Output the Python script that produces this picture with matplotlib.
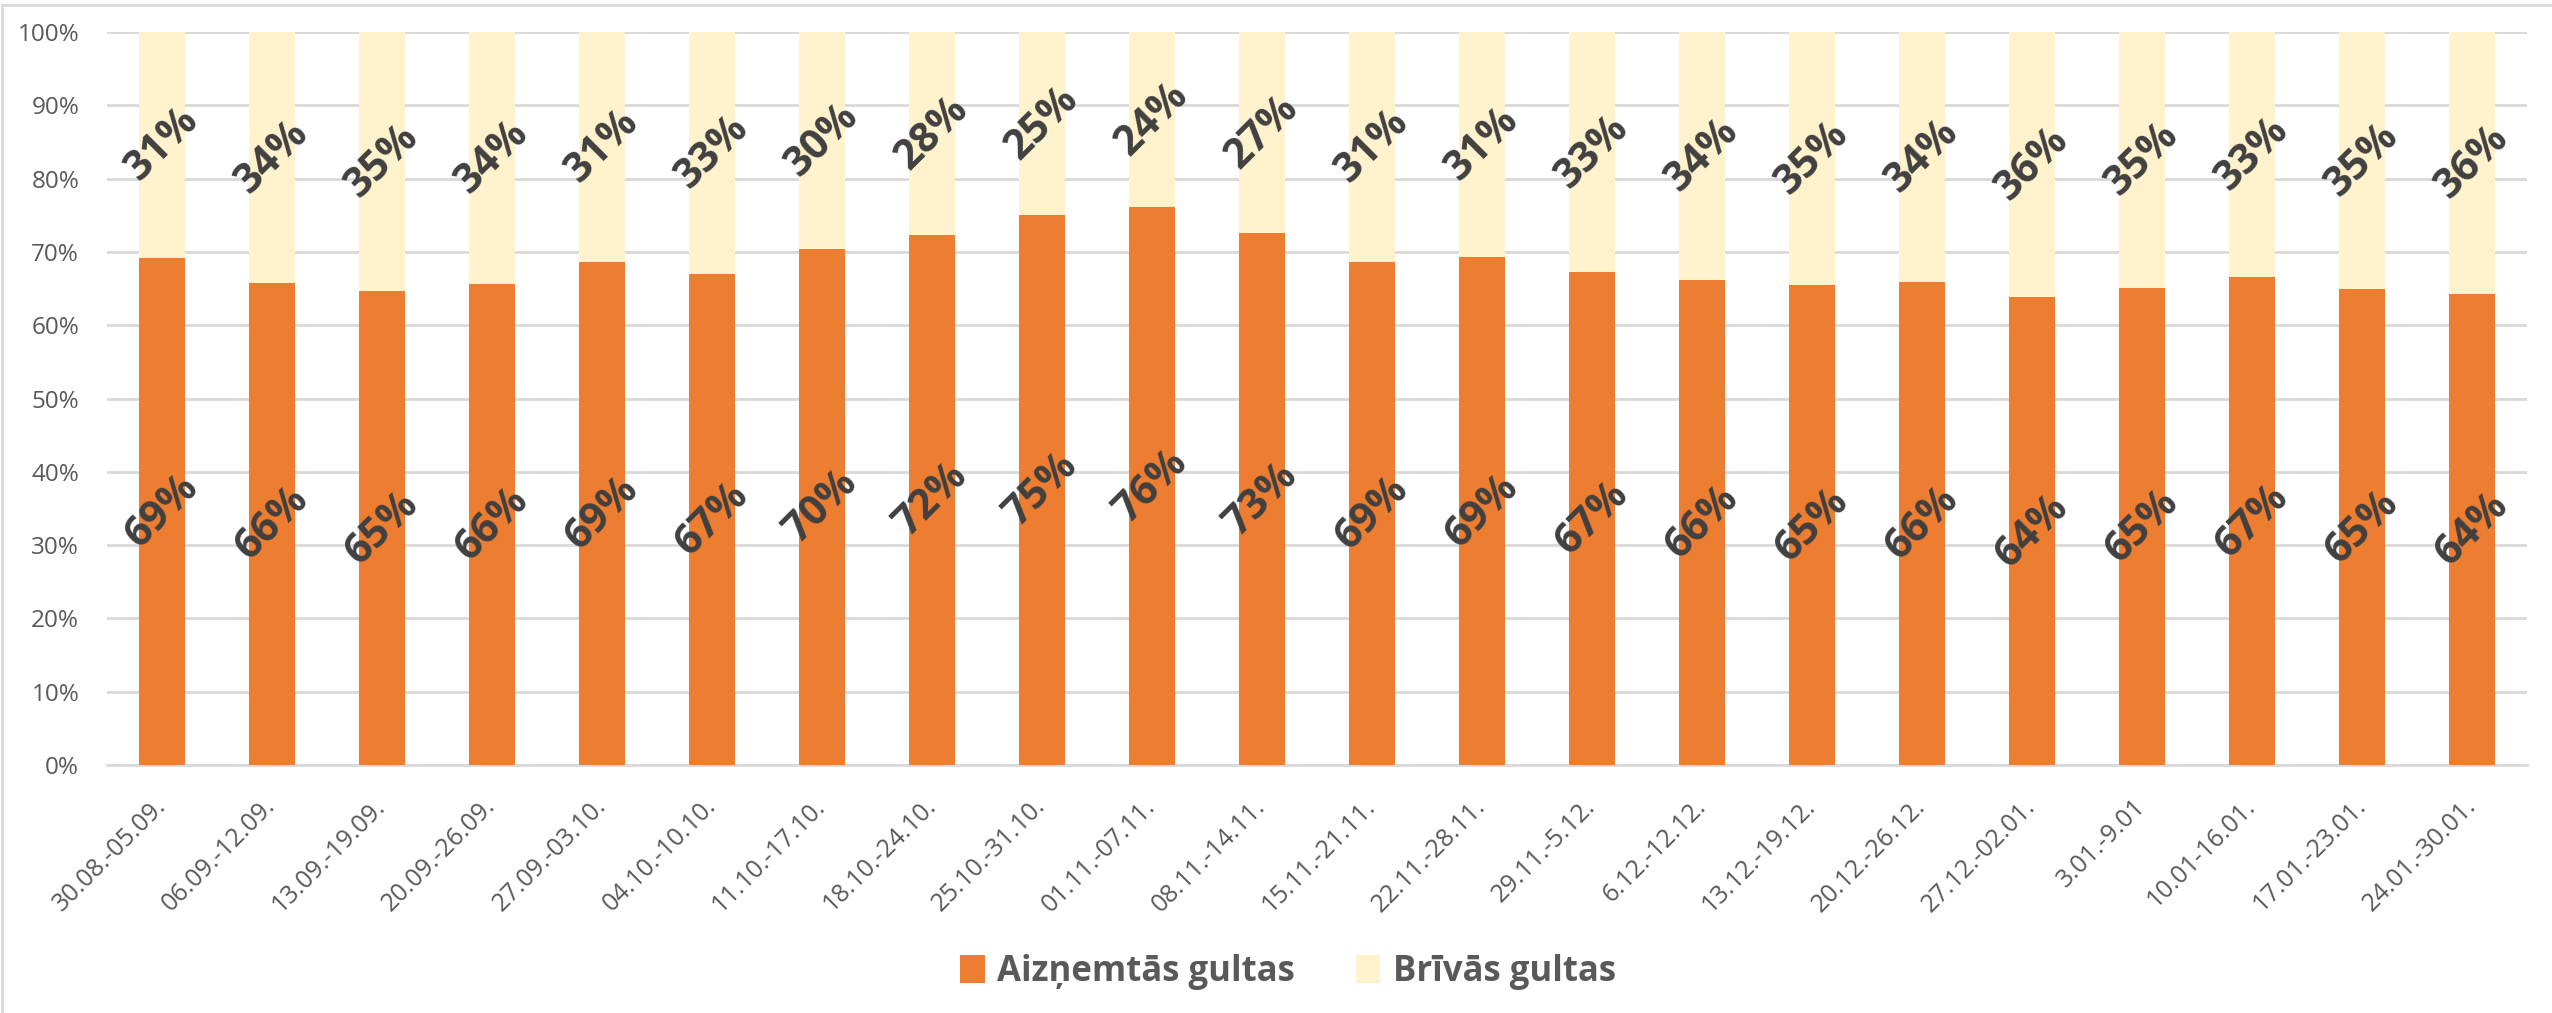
import matplotlib
matplotlib.use("Agg")
import matplotlib.pyplot as plt
from matplotlib.lines import Line2D
import numpy as np

plt.rcParams['font.family'] = ['Open Sans', 'DejaVu Sans']

weeks = ["30.08.-05.09.", "06.09.-12.09.", "13.09.-19.09.", "20.09.-26.09.",
         "27.09.-03.10.", "04.10.-10.10.", "11.10.-17.10.", "18.10.-24.10.",
         "25.10.-31.10.", "01.11.-07.11.", "08.11.-14.11.", "15.11.-21.11.",
         "22.11.-28.11.", "29.11.-5.12.", "6.12.-12.12.", "13.12.-19.12.",
         "20.12.-26.12.", "27.12.-02.01.", "3.01.-9.01", "10.01-16.01.",
         "17.01.-23.01.", "24.01.-30.01."]

occupied = [69.23, 65.81, 64.67, 65.63, 68.68, 67.05, 70.45, 72.36, 75.09, 76.09,
            72.55, 68.64, 69.30, 67.23, 66.23, 65.45, 65.95, 63.85, 65.13, 66.58,
            64.94, 64.30]
free = [100 - v for v in occupied]

series_names = ["Aizņemtās gultas", "Brīvās gultas"]
colors = ["#ED7D31", "#FFF2CC"]

W, H = 2552, 1013
fig = plt.figure(figsize=(W / 100, H / 100), dpi=100)
ax = fig.add_axes([107 / W, 1 - 765 / H, (2527 - 107) / W, (765 - 32) / H])

x = np.arange(len(weeks))
bw = 0.41
b1 = ax.bar(x, occupied, bw, color=colors[0], label=series_names[0], zorder=3)
b2 = ax.bar(x, free, bw, bottom=occupied, color=colors[1], label=series_names[1], zorder=3)

lab_kw = dict(rotation=45, rotation_mode='anchor', ha='center', va='center',
              fontsize=30, fontweight='bold', color='#404040', zorder=5)
for xi, o, f in zip(x, occupied, free):
    ax.text(xi, o / 2, f"{o:.0f}%", **lab_kw)
    ax.text(xi, o + f / 2, f"{f:.0f}%", **lab_kw)

ax.set_xlim(-0.5, len(weeks) - 0.5)
ax.set_ylim(0, 100)
ax.set_yticks(np.arange(0, 101, 10))
ax.set_yticklabels([f"{v}%" for v in range(0, 101, 10)])
ax.yaxis.grid(True, color='#D9D9D9', linewidth=2, zorder=0)
ax.set_axisbelow(True)
for s in ['top', 'right', 'left']:
    ax.spines[s].set_visible(False)
ax.spines['bottom'].set_color('#D9D9D9')
ax.spines['bottom'].set_linewidth(2)
ax.tick_params(axis='y', length=0, pad=20, labelsize=17.5, labelcolor='#595959')
ax.tick_params(axis='x', length=0, pad=27, labelsize=18, labelcolor='#595959')
ax.set_xticks(x)
ax.set_xticklabels(weeks, rotation=45, ha='right', va='center', rotation_mode='anchor')

leg = fig.legend(handles=[b1, b2], loc='center', bbox_to_anchor=(1288 / W, 1 - 972 / H),
                 ncol=2, frameon=False, prop={'size': 25, 'weight': 'bold'},
                 handlelength=0.7, handleheight=0.9, handletextpad=0.36,
                 columnspacing=1.75, labelcolor='#595959')

# chart area border
fig.add_artist(Line2D([2 / W, 2 / W], [0, 1 - 5 / H], color='#D9D9D9', lw=2, transform=fig.transFigure))
fig.add_artist(Line2D([2 / W, 1], [1 - 5 / H, 1 - 5 / H], color='#D9D9D9', lw=2, transform=fig.transFigure))

fig.savefig("out.png", dpi=100)
